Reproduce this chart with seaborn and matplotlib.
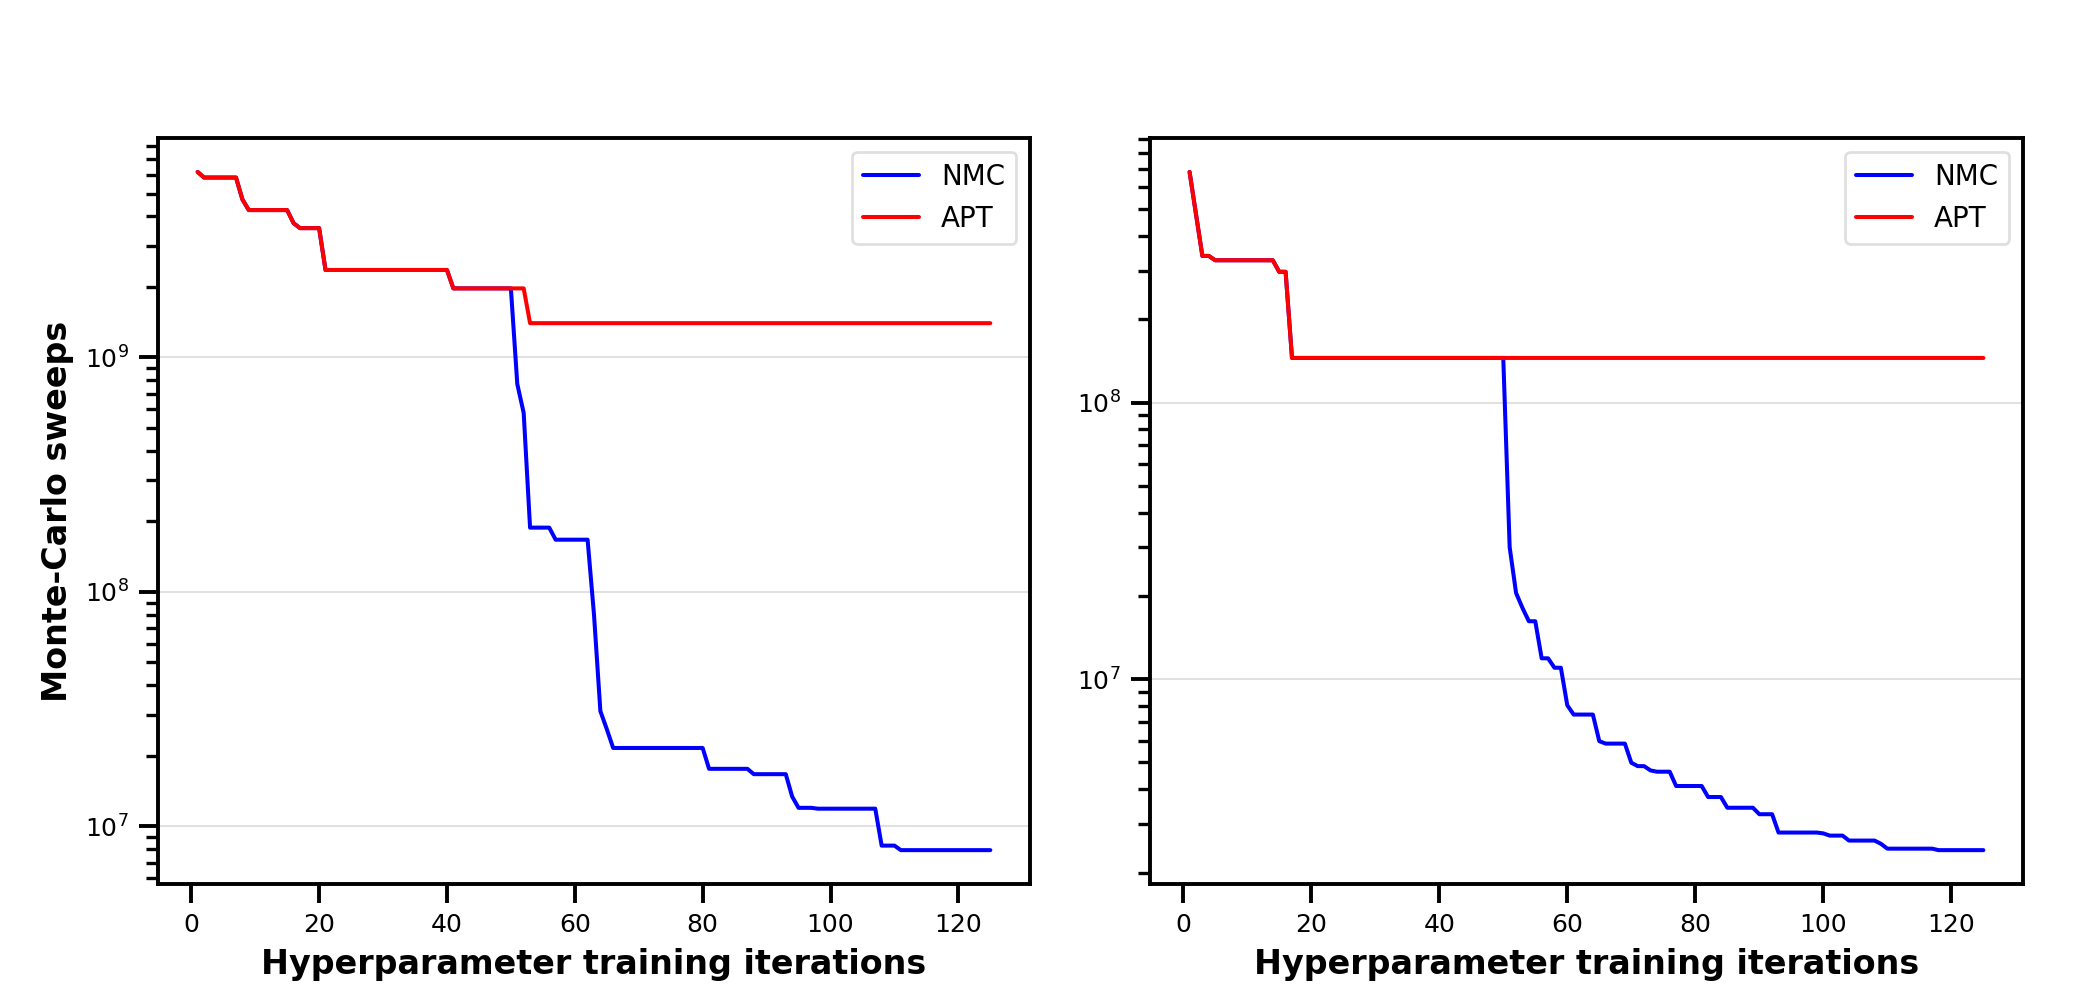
import matplotlib
matplotlib.use("Agg")
import matplotlib.pyplot as plt
import numpy as np
import pandas as pd
import seaborn as sns

# ---------------- data ----------------
iterations = list(range(1, 126))
methods = ["NMC", "APT"]

left_apt = [
    6.18e9, 5.85e9, 5.85e9, 5.85e9, 5.85e9, 5.85e9, 5.85e9, 4.72e9, 4.25e9, 4.25e9,
    4.25e9, 4.25e9, 4.25e9, 4.25e9, 4.25e9, 3.74e9, 3.56e9, 3.56e9, 3.56e9, 3.56e9,
    2.36e9, 2.36e9, 2.36e9, 2.36e9, 2.36e9, 2.36e9, 2.36e9, 2.36e9, 2.36e9, 2.36e9,
    2.36e9, 2.36e9, 2.36e9, 2.36e9, 2.36e9, 2.36e9, 2.36e9, 2.36e9, 2.36e9, 2.36e9,
    1.97e9, 1.97e9, 1.97e9, 1.97e9, 1.97e9, 1.97e9, 1.97e9, 1.97e9, 1.97e9, 1.97e9,
    1.97e9, 1.97e9, 1.40e9, 1.40e9, 1.40e9, 1.40e9, 1.40e9, 1.40e9, 1.40e9, 1.40e9,
    1.40e9, 1.40e9, 1.40e9, 1.40e9, 1.40e9, 1.40e9, 1.40e9, 1.40e9, 1.40e9, 1.40e9,
    1.40e9, 1.40e9, 1.40e9, 1.40e9, 1.40e9, 1.40e9, 1.40e9, 1.40e9, 1.40e9, 1.40e9,
    1.40e9, 1.40e9, 1.40e9, 1.40e9, 1.40e9, 1.40e9, 1.40e9, 1.40e9, 1.40e9, 1.40e9,
    1.40e9, 1.40e9, 1.40e9, 1.40e9, 1.40e9, 1.40e9, 1.40e9, 1.40e9, 1.40e9, 1.40e9,
    1.40e9, 1.40e9, 1.40e9, 1.40e9, 1.40e9, 1.40e9, 1.40e9, 1.40e9, 1.40e9, 1.40e9,
    1.40e9, 1.40e9, 1.40e9, 1.40e9, 1.40e9, 1.40e9, 1.40e9, 1.40e9, 1.40e9, 1.40e9,
    1.40e9, 1.40e9, 1.40e9, 1.40e9, 1.40e9,
]

left_nmc = [
    6.18e9, 5.85e9, 5.85e9, 5.85e9, 5.85e9, 5.85e9, 5.85e9, 4.72e9, 4.25e9, 4.25e9,
    4.25e9, 4.25e9, 4.25e9, 4.25e9, 4.25e9, 3.74e9, 3.56e9, 3.56e9, 3.56e9, 3.56e9,
    2.36e9, 2.36e9, 2.36e9, 2.36e9, 2.36e9, 2.36e9, 2.36e9, 2.36e9, 2.36e9, 2.36e9,
    2.36e9, 2.36e9, 2.36e9, 2.36e9, 2.36e9, 2.36e9, 2.36e9, 2.36e9, 2.36e9, 2.36e9,
    1.97e9, 1.97e9, 1.97e9, 1.97e9, 1.97e9, 1.97e9, 1.97e9, 1.97e9, 1.97e9, 1.97e9,
    7.7e8, 5.8e8, 1.88e8, 1.88e8, 1.88e8, 1.88e8, 1.67e8, 1.67e8, 1.67e8, 1.67e8,
    1.67e8, 1.67e8, 8.0e7, 3.1e7, 2.6e7, 2.16e7, 2.16e7, 2.16e7, 2.16e7, 2.16e7,
    2.16e7, 2.16e7, 2.16e7, 2.16e7, 2.16e7, 2.16e7, 2.16e7, 2.16e7, 2.16e7, 2.16e7,
    1.76e7, 1.76e7, 1.76e7, 1.76e7, 1.76e7, 1.76e7, 1.76e7, 1.67e7, 1.67e7, 1.67e7,
    1.67e7, 1.67e7, 1.67e7, 1.34e7, 1.20e7, 1.20e7, 1.20e7, 1.19e7, 1.19e7, 1.19e7,
    1.19e7, 1.19e7, 1.19e7, 1.19e7, 1.19e7, 1.19e7, 1.19e7, 8.28e6, 8.28e6, 8.28e6,
    7.92e6, 7.92e6, 7.92e6, 7.92e6, 7.92e6, 7.92e6, 7.92e6, 7.92e6, 7.92e6, 7.92e6,
    7.92e6, 7.92e6, 7.92e6, 7.92e6, 7.92e6,
]

right_apt = [
    6.82e8, 4.8e8, 3.39e8, 3.39e8, 3.27e8, 3.27e8, 3.27e8, 3.27e8, 3.27e8, 3.27e8,
    3.27e8, 3.27e8, 3.27e8, 3.27e8, 2.97e8, 2.97e8, 1.45e8, 1.45e8, 1.45e8, 1.45e8,
    1.45e8, 1.45e8, 1.45e8, 1.45e8, 1.45e8, 1.45e8, 1.45e8, 1.45e8, 1.45e8, 1.45e8,
    1.45e8, 1.45e8, 1.45e8, 1.45e8, 1.45e8, 1.45e8, 1.45e8, 1.45e8, 1.45e8, 1.45e8,
    1.45e8, 1.45e8, 1.45e8, 1.45e8, 1.45e8, 1.45e8, 1.45e8, 1.45e8, 1.45e8, 1.45e8,
    1.45e8, 1.45e8, 1.45e8, 1.45e8, 1.45e8, 1.45e8, 1.45e8, 1.45e8, 1.45e8, 1.45e8,
    1.45e8, 1.45e8, 1.45e8, 1.45e8, 1.45e8, 1.45e8, 1.45e8, 1.45e8, 1.45e8, 1.45e8,
    1.45e8, 1.45e8, 1.45e8, 1.45e8, 1.45e8, 1.45e8, 1.45e8, 1.45e8, 1.45e8, 1.45e8,
    1.45e8, 1.45e8, 1.45e8, 1.45e8, 1.45e8, 1.45e8, 1.45e8, 1.45e8, 1.45e8, 1.45e8,
    1.45e8, 1.45e8, 1.45e8, 1.45e8, 1.45e8, 1.45e8, 1.45e8, 1.45e8, 1.45e8, 1.45e8,
    1.45e8, 1.45e8, 1.45e8, 1.45e8, 1.45e8, 1.45e8, 1.45e8, 1.45e8, 1.45e8, 1.45e8,
    1.45e8, 1.45e8, 1.45e8, 1.45e8, 1.45e8, 1.45e8, 1.45e8, 1.45e8, 1.45e8, 1.45e8,
    1.45e8, 1.45e8, 1.45e8, 1.45e8, 1.45e8,
]

right_nmc = [
    6.82e8, 4.8e8, 3.39e8, 3.39e8, 3.27e8, 3.27e8, 3.27e8, 3.27e8, 3.27e8, 3.27e8,
    3.27e8, 3.27e8, 3.27e8, 3.27e8, 2.97e8, 2.97e8, 1.45e8, 1.45e8, 1.45e8, 1.45e8,
    1.45e8, 1.45e8, 1.45e8, 1.45e8, 1.45e8, 1.45e8, 1.45e8, 1.45e8, 1.45e8, 1.45e8,
    1.45e8, 1.45e8, 1.45e8, 1.45e8, 1.45e8, 1.45e8, 1.45e8, 1.45e8, 1.45e8, 1.45e8,
    1.45e8, 1.45e8, 1.45e8, 1.45e8, 1.45e8, 1.45e8, 1.45e8, 1.45e8, 1.45e8, 1.45e8,
    3.0e7, 2.05e7, 1.81e7, 1.62e7, 1.62e7, 1.19e7, 1.19e7, 1.10e7, 1.10e7, 8.05e6,
    7.45e6, 7.45e6, 7.45e6, 7.45e6, 5.97e6, 5.85e6, 5.85e6, 5.85e6, 5.85e6, 4.99e6,
    4.85e6, 4.85e6, 4.68e6, 4.63e6, 4.63e6, 4.63e6, 4.11e6, 4.11e6, 4.11e6, 4.11e6,
    4.11e6, 3.75e6, 3.75e6, 3.75e6, 3.43e6, 3.43e6, 3.43e6, 3.43e6, 3.43e6, 3.25e6,
    3.25e6, 3.25e6, 2.79e6, 2.79e6, 2.79e6, 2.79e6, 2.79e6, 2.79e6, 2.79e6, 2.77e6,
    2.72e6, 2.72e6, 2.72e6, 2.61e6, 2.61e6, 2.61e6, 2.61e6, 2.61e6, 2.54e6, 2.44e6,
    2.44e6, 2.44e6, 2.44e6, 2.44e6, 2.44e6, 2.44e6, 2.44e6, 2.41e6, 2.41e6, 2.41e6,
    2.41e6, 2.41e6, 2.41e6, 2.41e6, 2.41e6,
]

for arr in (left_apt, left_nmc, right_apt, right_nmc):
    assert len(arr) == len(iterations)

x_label = "Hyperparameter training iterations"
y_label = "Monte-Carlo sweeps"
colors = {"NMC": "blue", "APT": "red"}

# ---------------- figure ----------------
sns.set_style("ticks")
plt.rcParams["font.family"] = ["DejaVu Sans"]
plt.rcParams["text.color"] = "black"
plt.rcParams["axes.labelcolor"] = "black"
plt.rcParams["xtick.color"] = "black"
plt.rcParams["ytick.color"] = "black"
plt.rcParams["xtick.labelcolor"] = "black"
plt.rcParams["ytick.labelcolor"] = "black"

DPI = 200
fig = plt.figure(figsize=(2082 / DPI, 996 / DPI), dpi=DPI)
ax1 = fig.add_axes([0.0759, 0.1124, 0.4188, 0.749])
ax2 = fig.add_axes([0.5523, 0.1124, 0.4194, 0.749])

panels = [(ax1, left_nmc, left_apt, True), (ax2, right_nmc, right_apt, False)]
for ax, nmc, apt, show_ylabel in panels:
    df = pd.DataFrame({
        "iteration": iterations + iterations,
        "sweeps": nmc + apt,
        "method": ["NMC"] * len(nmc) + ["APT"] * len(apt),
    })
    sns.lineplot(data=df, x="iteration", y="sweeps", hue="method",
                 hue_order=methods, palette=colors, linewidth=1.45,
                 errorbar=None, ax=ax)
    ax.set_yscale("log")
    ax.yaxis.grid(True, which="major", color="#dcdcdc", linewidth=0.6)
    ax.xaxis.grid(False)
    ax.set_axisbelow(True)
    for s in ax.spines.values():
        s.set_visible(True)
        s.set_linewidth(1.4)
        s.set_color("black")
    ax.tick_params(axis="both", which="major", length=7, width=1.4,
                   labelsize=9, color="black", labelcolor="black",
                   direction="out")
    ax.tick_params(axis="y", which="minor", length=4.2, width=1.2,
                   color="black", direction="out")
    ax.set_xticks([0, 20, 40, 60, 80, 100, 120])
    ax.set_xlabel(x_label, fontsize=12, fontweight="bold", color="black")
    if show_ylabel:
        ax.set_ylabel(y_label, fontsize=12, fontweight="bold", color="black")
    else:
        ax.set_ylabel("")
    handles, labels = ax.get_legend_handles_labels()
    leg = ax.legend(handles, labels, loc="upper right", fontsize=10,
                    frameon=True, fancybox=True, edgecolor="#d8d8d8",
                    framealpha=0.8)
    leg.get_frame().set_linewidth(1.0)
    for txt in leg.get_texts():
        txt.set_color("black")
    for line in leg.get_lines():
        line.set_linewidth(1.45)

fig.savefig("out.png", dpi=DPI)
